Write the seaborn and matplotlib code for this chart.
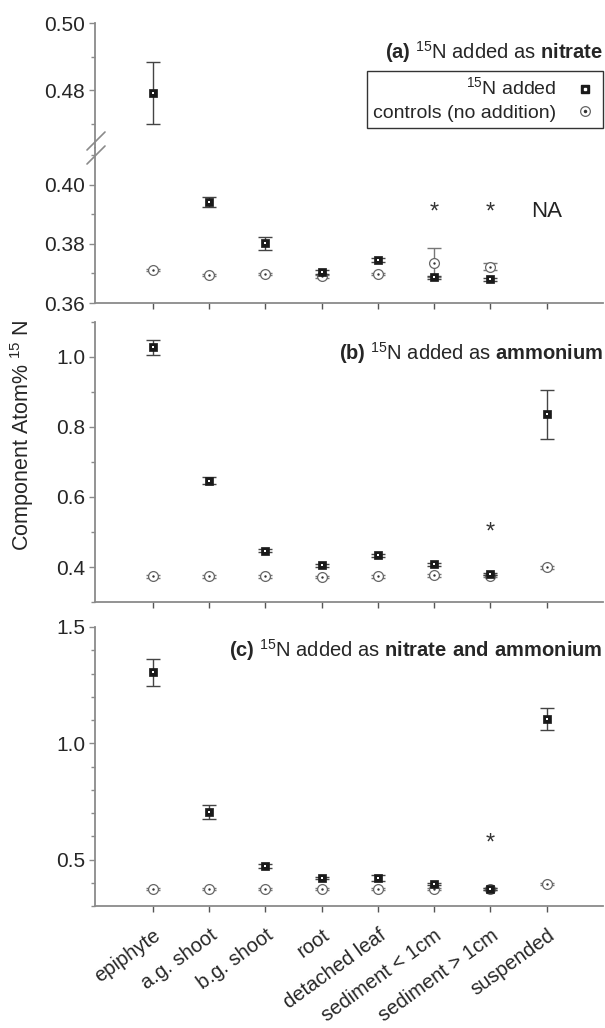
import numpy as np
import pandas as pd
import matplotlib.pyplot as plt
import seaborn as sns
from matplotlib.lines import Line2D
from matplotlib.ticker import MultipleLocator

# categories and values
categories = ["epiphyte", "a.g. shoot", "b.g. shoot", "root", "detached leaf",
              "sediment < 1cm", "sediment > 1cm", "suspended"]

nitrate_added = [0.4792, 0.3942, 0.3802, 0.3705, 0.3747, 0.3687, 0.3681, np.nan]
nitrate_added_err = [0.0093, 0.0017, 0.0022, 0.0006, 0.0007, 0.0005, 0.0005, np.nan]
nitrate_ctrl = [0.3712, 0.3695, 0.3699, 0.3690, 0.3699, 0.3736, 0.3723, np.nan]
nitrate_ctrl_err = [0.0004, 0.0003, 0.0004, 0.0004, 0.0004, 0.0049, 0.0012, np.nan]

ammonium_added = [1.028, 0.647, 0.447, 0.405, 0.433, 0.408, 0.380, 0.836]
ammonium_added_err = [0.021, 0.010, 0.004, 0.004, 0.005, 0.004, 0.003, 0.070]
ammonium_ctrl = [0.373, 0.373, 0.373, 0.372, 0.373, 0.376, 0.374, 0.399]
ammonium_ctrl_err = [0.003, 0.003, 0.003, 0.003, 0.003, 0.004, 0.003, 0.005]

both_added = [1.305, 0.703, 0.472, 0.420, 0.421, 0.396, 0.373, 1.104]
both_added_err = [0.057, 0.030, 0.008, 0.006, 0.013, 0.005, 0.004, 0.048]
both_ctrl = [0.373, 0.373, 0.373, 0.373, 0.373, 0.372, 0.372, 0.396]
both_ctrl_err = [0.004, 0.004, 0.004, 0.004, 0.004, 0.005, 0.004, 0.005]

# significance stars (category index, y) and NA marker
stars_a = [(5, 0.3905), (6, 0.3905)]
stars_b = [(6, 0.498)]
stars_c = [(6, 0.568)]
na_a = (7, 0.3910)

sns.set_style("ticks")
plt.rcParams['font.family'] = ['Liberation Sans', 'DejaVu Sans']
plt.rcParams['mathtext.fontset'] = 'custom'
plt.rcParams['mathtext.rm'] = 'Liberation Sans'
plt.rcParams['mathtext.bf'] = 'Liberation Sans:bold'

W, H = 605, 1028
fig = plt.figure(figsize=(W / 100, H / 100), dpi=100)


def px_axes(x0, y0, x1, y1):
    return fig.add_axes([x0 / W, 1 - y1 / H, (x1 - x0) / W, (y1 - y0) / H])


spine_col = "#8a8a8a"
xpos = np.arange(len(categories))


def style(ax, bottom=True):
    sns.despine(ax=ax, top=True, right=True, bottom=not bottom)
    for s in ["left", "bottom"]:
        ax.spines[s].set_color(spine_col)
        ax.spines[s].set_linewidth(1.3)
    ax.tick_params(axis="y", which="major", direction="out", length=4, width=1,
                   color=spine_col, labelsize=15, pad=3)
    ax.tick_params(axis="y", which="minor", direction="out", length=3, width=1,
                   color=spine_col)
    ax.tick_params(axis="x", direction="out", length=4, width=1, color="#555555")
    ax.set_xlim(-1.03, 8.0)
    ax.set_xticks(xpos)
    if bottom:
        ax.set_xticklabels([])
    else:
        ax.set_xticks([])
    ax.set_xlabel("")
    ax.set_ylabel("")
    ax.set_facecolor("white")


def draw(ax, added, added_err, ctrl, ctrl_err):
    df = pd.DataFrame({"x": xpos, "added": added, "added_err": added_err,
                       "ctrl": ctrl, "ctrl_err": ctrl_err})
    ax.errorbar(df["x"], df["ctrl"], yerr=df["ctrl_err"], fmt="none",
                ecolor="#777777", elinewidth=1, capsize=5, capthick=1, zorder=2)
    sns.scatterplot(data=df, x="x", y="ctrl", ax=ax, marker="o", s=50,
                    facecolor="white", edgecolor="#666666", linewidth=0.9,
                    zorder=3, legend=False)
    sns.scatterplot(data=df, x="x", y="ctrl", ax=ax, marker="o", s=3,
                    color="#333333", linewidth=0, zorder=4, legend=False)
    ax.errorbar(df["x"], df["added"], yerr=df["added_err"], fmt="none",
                ecolor="#444444", elinewidth=1, capsize=5, capthick=1, zorder=5)
    sns.scatterplot(data=df, x="x", y="added", ax=ax, marker="s", s=34,
                    color="#1a1a1a", edgecolor="#1a1a1a", linewidth=0.5,
                    zorder=6, legend=False)
    sns.scatterplot(data=df, x="x", y="added", ax=ax, marker="s", s=3,
                    color="white", linewidth=0, zorder=7, legend=False)


# panel (a): broken axis
ax_up = px_axes(95, 23, 603, 148)
ax_lo = px_axes(95, 148, 603, 303)
for ax in (ax_up, ax_lo):
    draw(ax, nitrate_added, nitrate_added_err, nitrate_ctrl, nitrate_ctrl_err)
style(ax_up, bottom=False)
style(ax_lo)
ax_up.set_ylim(0.4627, 0.50)
ax_up.yaxis.set_major_locator(MultipleLocator(0.02))
ax_up.yaxis.set_minor_locator(MultipleLocator(0.01))
ax_up.yaxis.set_major_formatter(plt.FormatStrFormatter("%.2f"))
ax_lo.set_ylim(0.36, 0.4125)
ax_lo.yaxis.set_major_locator(MultipleLocator(0.02))
ax_lo.yaxis.set_minor_locator(MultipleLocator(0.01))
ax_lo.yaxis.set_major_formatter(plt.FormatStrFormatter("%.2f"))

for k, y in stars_a:
    ax_lo.text(k, y, "*", ha="center", va="center", fontsize=17, color="#333333")
ax_lo.text(na_a[0], na_a[1], "NA", ha="center", va="center", fontsize=16,
           color="#222222")

ax_up.text(1.0, 0.77, r"$\mathbf{(a)}$ $^{15}$N added as $\mathbf{nitrate}$",
           transform=ax_up.transAxes, ha="right", va="center", fontsize=14.5)

sq = Line2D([], [], marker="s", ls="none", color="#1a1a1a", markersize=6)
sq_dot = Line2D([], [], marker="s", ls="none", color="white", markersize=1.5)
ci = Line2D([], [], marker="o", ls="none", color="#666666", markersize=7,
            markerfacecolor="white", markeredgewidth=0.9)
ci_dot = Line2D([], [], marker="o", ls="none", color="#333333", markersize=1.5)
leg = ax_up.legend([(sq, sq_dot), (ci, ci_dot)],
                   [r"$^{15}$N added", "controls (no addition)"],
                   loc="upper right", bbox_to_anchor=(1.0, 0.615),
                   borderaxespad=0, markerfirst=False, fancybox=False,
                   framealpha=1, edgecolor="#333333", fontsize=14,
                   handletextpad=0.9, borderpad=0.3, labelspacing=0.25,
                   handlelength=1.2)
leg.get_frame().set_linewidth(1.0)
for t in leg.get_texts():
    t.set_ha("right")

# break marks across the y axis
for y0 in (150, 164):
    fig.add_artist(Line2D([87 / W, 105 / W], [1 - y0 / H, 1 - (y0 - 18) / H],
                          color=spine_col, lw=1.2, transform=fig.transFigure))

# panel (b)
ax_b = px_axes(95, 322, 603, 602)
draw(ax_b, ammonium_added, ammonium_added_err, ammonium_ctrl, ammonium_ctrl_err)
style(ax_b)
ax_b.set_ylim(0.30, 1.10)
ax_b.yaxis.set_major_locator(MultipleLocator(0.2))
ax_b.yaxis.set_minor_locator(MultipleLocator(0.1))
ax_b.yaxis.set_major_formatter(plt.FormatStrFormatter("%.1f"))
for k, y in stars_b:
    ax_b.text(k, y, "*", ha="center", va="center", fontsize=17, color="#333333")
ax_b.text(1.0, 0.89, r"$\mathbf{(b)}$ $^{15}$N added as $\mathbf{ammonium}$",
          transform=ax_b.transAxes, ha="right", va="center", fontsize=14.5)

# panel (c)
ax_c = px_axes(95, 627, 603, 906)
draw(ax_c, both_added, both_added_err, both_ctrl, both_ctrl_err)
style(ax_c)
ax_c.set_ylim(0.30, 1.50)
ax_c.yaxis.set_major_locator(MultipleLocator(0.5))
ax_c.yaxis.set_minor_locator(MultipleLocator(0.1))
ax_c.yaxis.set_major_formatter(plt.FormatStrFormatter("%.1f"))
for k, y in stars_c:
    ax_c.text(k, y, "*", ha="center", va="center", fontsize=17, color="#333333")
ax_c.text(1.0, 0.918,
          r"$\mathbf{(c)}$ $^{15}$N added as $\mathbf{nitrate\ and\ ammonium}$",
          transform=ax_c.transAxes, ha="right", va="center", fontsize=14.5)
ax_c.set_xticklabels(categories, rotation=36, ha="right",
                     rotation_mode="anchor", fontsize=14.5)
ax_c.tick_params(axis="x", pad=10)

fig.text(0.036, 1 - 435 / H, r"Component Atom% $^{15}$ N", rotation=90,
         ha="center", va="center", fontsize=15.5)

fig.savefig("out.png", dpi=100, facecolor="white")
